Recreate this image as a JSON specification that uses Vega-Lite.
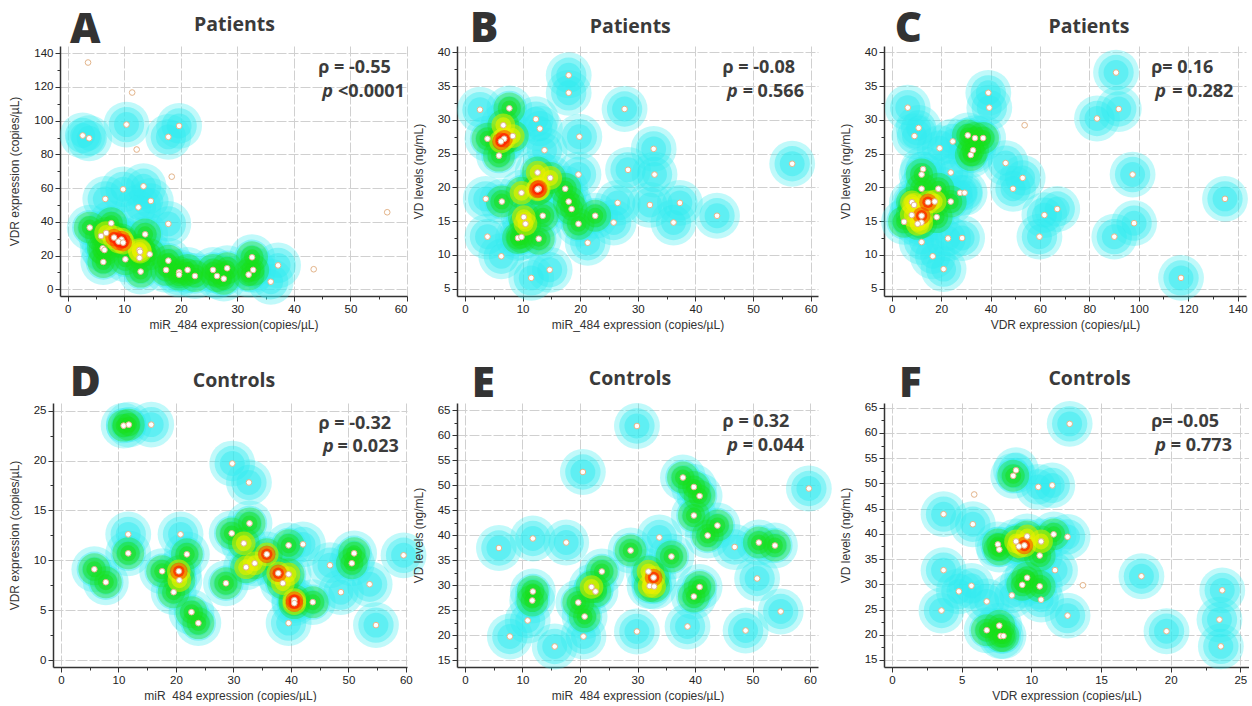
{
"$schema":"https://vega.github.io/schema/vega-lite/v6.json",
"background":"white",
"padding":{"left":8,"top":7,"right":0,"bottom":0},
"config":{"view":{"stroke":null},
"axis":{"domainColor":"#333","domainWidth":1.5,"tickColor":"#333","labelFont":"Liberation Sans","labelFontSize":11.5,"labelColor":"#222","titleFont":"Liberation Sans","titleFontSize":12,"titleFontWeight":"normal","titleColor":"#333","gridColor":"#d0d0d0","gridDash":[10,2],"labelPadding":2,"tickSize":4}},
"datasets":{
"A":[{"x":3.6,"y":134.5,"heat":0},{"x":11.4,"y":116.7,"heat":0},{"x":10.4,"y":97.7,"heat":1},{"x":19.7,"y":96.9,"heat":1},{"x":2.65,"y":91.2,"heat":1},{"x":3.8,"y":89.6,"heat":1},{"x":17.8,"y":90.4,"heat":1},{"x":12.2,"y":82.9,"heat":0},{"x":18.4,"y":66.8,"heat":0},{"x":13.4,"y":61.1,"heat":1},{"x":9.8,"y":59.3,"heat":1},{"x":6.65,"y":53.6,"heat":1},{"x":14.7,"y":52.4,"heat":1},{"x":12.5,"y":48.6,"heat":1},{"x":56.5,"y":45.7,"heat":0},{"x":17.8,"y":38.8,"heat":1},{"x":7.7,"y":39.2,"heat":2},{"x":3.9,"y":36.6,"heat":2},{"x":13.7,"y":32.6,"heat":2},{"x":6.8,"y":33.4,"heat":3},{"x":5.9,"y":31.6,"heat":2},{"x":8.2,"y":30.7,"heat":4},{"x":9.5,"y":29.5,"heat":4},{"x":9.0,"y":28.3,"heat":4},{"x":9.8,"y":27.7,"heat":4},{"x":6.2,"y":24.3,"heat":2},{"x":6.5,"y":23.3,"heat":2},{"x":12.7,"y":23.3,"heat":3},{"x":12.8,"y":22.3,"heat":3},{"x":14.5,"y":20.8,"heat":2},{"x":32.6,"y":19.0,"heat":2},{"x":10.2,"y":17.8,"heat":2},{"x":12.7,"y":18.6,"heat":2},{"x":17.8,"y":17.0,"heat":2},{"x":6.3,"y":16.2,"heat":2},{"x":37.2,"y":14.2,"heat":1},{"x":28.2,"y":12.5,"heat":2},{"x":17.4,"y":11.5,"heat":2},{"x":21.2,"y":11.5,"heat":2},{"x":25.7,"y":11.5,"heat":2},{"x":32.8,"y":11.5,"heat":2},{"x":43.5,"y":11.9,"heat":0},{"x":12.9,"y":10.5,"heat":2},{"x":19.7,"y":10.1,"heat":2},{"x":19.7,"y":8.7,"heat":2},{"x":22.5,"y":7.9,"heat":2},{"x":26.4,"y":7.9,"heat":2},{"x":27.6,"y":6.3,"heat":2},{"x":32.0,"y":8.7,"heat":2},{"x":35.9,"y":4.5,"heat":1}],
"B":[{"x":18.0,"y":36.6,"heat":1},{"x":18.0,"y":34.0,"heat":1},{"x":2.6,"y":31.5,"heat":1},{"x":7.7,"y":31.7,"heat":2},{"x":27.7,"y":31.6,"heat":1},{"x":12.3,"y":30.1,"heat":1},{"x":6.65,"y":29.2,"heat":3},{"x":13.0,"y":28.7,"heat":1},{"x":19.85,"y":27.5,"heat":1},{"x":8.3,"y":27.6,"heat":3},{"x":3.9,"y":27.2,"heat":2},{"x":6.8,"y":27.2,"heat":4},{"x":6.25,"y":26.8,"heat":4},{"x":13.8,"y":25.5,"heat":1},{"x":5.9,"y":24.7,"heat":2},{"x":32.75,"y":25.7,"heat":1},{"x":28.3,"y":22.6,"heat":1},{"x":32.9,"y":21.9,"heat":1},{"x":19.7,"y":21.9,"heat":1},{"x":12.6,"y":22.2,"heat":3},{"x":14.8,"y":21.4,"heat":3},{"x":56.8,"y":23.5,"heat":1},{"x":12.8,"y":19.8,"heat":4},{"x":12.6,"y":19.7,"heat":4},{"x":17.4,"y":19.8,"heat":2},{"x":9.8,"y":19.2,"heat":3},{"x":3.6,"y":18.3,"heat":1},{"x":6.4,"y":17.9,"heat":2},{"x":18.0,"y":17.9,"heat":2},{"x":18.5,"y":16.8,"heat":2},{"x":26.5,"y":17.7,"heat":1},{"x":32.1,"y":17.4,"heat":1},{"x":37.3,"y":17.7,"heat":1},{"x":10.2,"y":15.6,"heat":3},{"x":13.5,"y":15.8,"heat":2},{"x":22.6,"y":15.8,"heat":2},{"x":43.75,"y":15.8,"heat":1},{"x":10.5,"y":14.6,"heat":3},{"x":19.7,"y":14.6,"heat":2},{"x":25.8,"y":14.8,"heat":1},{"x":36.2,"y":14.8,"heat":1},{"x":3.9,"y":12.7,"heat":1},{"x":9.2,"y":12.5,"heat":2},{"x":9.8,"y":12.65,"heat":2},{"x":12.8,"y":12.4,"heat":2},{"x":21.3,"y":11.8,"heat":1},{"x":6.3,"y":9.8,"heat":1},{"x":14.7,"y":7.8,"heat":1},{"x":11.5,"y":6.6,"heat":1}],
"C":[{"x":90.8,"y":37.0,"heat":1},{"x":39.1,"y":34.0,"heat":1},{"x":6.5,"y":31.8,"heat":1},{"x":39.5,"y":31.8,"heat":1},{"x":91.9,"y":31.6,"heat":1},{"x":53.8,"y":29.2,"heat":0},{"x":83.1,"y":30.2,"heat":1},{"x":10.9,"y":28.8,"heat":1},{"x":9.2,"y":27.6,"heat":1},{"x":30.8,"y":27.7,"heat":2},{"x":33.7,"y":27.3,"heat":2},{"x":37.0,"y":27.3,"heat":2},{"x":24.7,"y":26.8,"heat":1},{"x":19.4,"y":25.8,"heat":1},{"x":32.9,"y":25.5,"heat":2},{"x":32.0,"y":24.8,"heat":2},{"x":46.1,"y":23.6,"heat":1},{"x":12.7,"y":22.7,"heat":1},{"x":23.9,"y":22.2,"heat":1},{"x":12.1,"y":21.9,"heat":2},{"x":97.5,"y":21.9,"heat":1},{"x":53.0,"y":21.4,"heat":1},{"x":12.1,"y":19.8,"heat":2},{"x":18.9,"y":19.8,"heat":2},{"x":49.1,"y":19.8,"heat":1},{"x":27.7,"y":19.2,"heat":1},{"x":29.5,"y":19.2,"heat":1},{"x":134.9,"y":18.3,"heat":1},{"x":8.2,"y":17.8,"heat":3},{"x":9.05,"y":17.4,"heat":3},{"x":14.7,"y":17.8,"heat":4},{"x":17.4,"y":17.9,"heat":3},{"x":23.9,"y":17.9,"heat":2},{"x":61.8,"y":15.9,"heat":1},{"x":67.0,"y":16.8,"heat":1},{"x":8.1,"y":15.9,"heat":3},{"x":12.1,"y":15.8,"heat":4},{"x":18.2,"y":15.6,"heat":2},{"x":5.0,"y":14.9,"heat":2},{"x":12.0,"y":14.8,"heat":3},{"x":10.5,"y":14.6,"heat":3},{"x":98.1,"y":14.7,"heat":1},{"x":59.8,"y":12.7,"heat":1},{"x":90.1,"y":12.7,"heat":1},{"x":22.8,"y":12.45,"heat":1},{"x":28.5,"y":12.5,"heat":1},{"x":12.1,"y":11.9,"heat":1},{"x":16.6,"y":9.8,"heat":1},{"x":21.0,"y":7.9,"heat":1},{"x":117.1,"y":6.6,"heat":1}],
"D":[{"x":10.9,"y":23.5,"heat":2},{"x":11.8,"y":23.6,"heat":2},{"x":15.7,"y":23.6,"heat":1},{"x":29.8,"y":19.7,"heat":1},{"x":32.7,"y":17.8,"heat":1},{"x":32.8,"y":13.7,"heat":2},{"x":11.7,"y":12.6,"heat":1},{"x":20.8,"y":12.6,"heat":1},{"x":29.7,"y":12.7,"heat":2},{"x":31.8,"y":11.7,"heat":3},{"x":39.6,"y":11.5,"heat":2},{"x":42.1,"y":11.6,"heat":1},{"x":11.7,"y":10.7,"heat":2},{"x":21.9,"y":10.6,"heat":2},{"x":35.8,"y":10.6,"heat":4},{"x":51.0,"y":10.7,"heat":2},{"x":59.6,"y":10.5,"heat":1},{"x":50.6,"y":9.7,"heat":2},{"x":33.7,"y":9.7,"heat":3},{"x":46.8,"y":9.5,"heat":1},{"x":32.2,"y":9.3,"heat":3},{"x":5.8,"y":9.1,"heat":2},{"x":17.6,"y":8.9,"heat":2},{"x":20.5,"y":8.9,"heat":4},{"x":37.8,"y":8.7,"heat":4},{"x":39.6,"y":8.6,"heat":3},{"x":20.6,"y":8.0,"heat":3},{"x":7.8,"y":7.8,"heat":2},{"x":28.7,"y":7.7,"heat":2},{"x":38.6,"y":7.7,"heat":3},{"x":53.7,"y":7.6,"heat":1},{"x":19.6,"y":6.8,"heat":2},{"x":48.7,"y":6.8,"heat":1},{"x":40.6,"y":6.0,"heat":4},{"x":40.6,"y":5.7,"heat":4},{"x":43.8,"y":5.8,"heat":2},{"x":22.7,"y":4.8,"heat":2},{"x":23.9,"y":3.7,"heat":2},{"x":39.6,"y":3.7,"heat":1},{"x":54.8,"y":3.5,"heat":1}],
"E":[{"x":29.9,"y":61.8,"heat":1},{"x":20.5,"y":52.6,"heat":1},{"x":37.9,"y":51.5,"heat":2},{"x":39.8,"y":49.6,"heat":2},{"x":59.8,"y":49.3,"heat":1},{"x":40.8,"y":47.8,"heat":2},{"x":39.8,"y":43.9,"heat":2},{"x":43.9,"y":41.9,"heat":2},{"x":42.2,"y":39.9,"heat":2},{"x":11.8,"y":39.3,"heat":1},{"x":33.8,"y":39.5,"heat":1},{"x":17.6,"y":38.5,"heat":1},{"x":51.1,"y":38.5,"heat":2},{"x":53.9,"y":37.9,"heat":2},{"x":46.9,"y":37.6,"heat":1},{"x":5.9,"y":37.4,"heat":1},{"x":28.8,"y":36.9,"heat":2},{"x":35.9,"y":35.7,"heat":2},{"x":23.8,"y":32.7,"heat":2},{"x":31.9,"y":32.7,"heat":3},{"x":32.8,"y":31.5,"heat":4},{"x":50.8,"y":31.3,"heat":1},{"x":22.0,"y":29.6,"heat":3},{"x":32.1,"y":29.8,"heat":3},{"x":32.9,"y":29.7,"heat":3},{"x":40.8,"y":29.6,"heat":2},{"x":11.8,"y":28.7,"heat":2},{"x":22.7,"y":28.7,"heat":2},{"x":39.8,"y":27.7,"heat":2},{"x":11.7,"y":26.9,"heat":2},{"x":19.7,"y":26.5,"heat":2},{"x":54.9,"y":24.7,"heat":1},{"x":20.8,"y":23.7,"heat":2},{"x":10.9,"y":22.9,"heat":1},{"x":38.7,"y":21.7,"heat":1},{"x":48.8,"y":20.9,"heat":1},{"x":29.9,"y":20.7,"heat":1},{"x":7.8,"y":19.7,"heat":1},{"x":20.6,"y":19.7,"heat":1},{"x":15.6,"y":17.7,"heat":1}],
"F":[{"x":12.75,"y":61.8,"heat":1},{"x":8.9,"y":52.6,"heat":1},{"x":8.7,"y":51.5,"heat":2},{"x":11.5,"y":49.6,"heat":1},{"x":10.5,"y":49.3,"heat":1},{"x":5.9,"y":47.8,"heat":0},{"x":3.7,"y":43.9,"heat":1},{"x":5.8,"y":41.9,"heat":1},{"x":11.6,"y":39.9,"heat":2},{"x":9.7,"y":39.5,"heat":3},{"x":12.6,"y":39.4,"heat":1},{"x":8.9,"y":38.5,"heat":3},{"x":10.7,"y":38.5,"heat":3},{"x":7.6,"y":37.9,"heat":2},{"x":9.5,"y":37.7,"heat":4},{"x":9.1,"y":37.5,"heat":3},{"x":7.7,"y":36.9,"heat":2},{"x":10.6,"y":35.7,"heat":2},{"x":3.7,"y":32.8,"heat":1},{"x":11.7,"y":32.8,"heat":1},{"x":17.9,"y":31.6,"heat":1},{"x":9.7,"y":31.3,"heat":2},{"x":13.7,"y":29.8,"heat":0},{"x":9.35,"y":29.9,"heat":2},{"x":10.6,"y":29.6,"heat":2},{"x":5.7,"y":29.7,"heat":1},{"x":23.7,"y":28.8,"heat":1},{"x":4.8,"y":28.6,"heat":1},{"x":8.6,"y":27.8,"heat":1},{"x":10.7,"y":26.95,"heat":1},{"x":6.8,"y":26.6,"heat":1},{"x":3.55,"y":24.8,"heat":1},{"x":12.6,"y":23.8,"heat":1},{"x":23.5,"y":23.0,"heat":1},{"x":7.7,"y":21.8,"heat":2},{"x":6.8,"y":20.9,"heat":2},{"x":19.7,"y":20.7,"heat":1},{"x":7.8,"y":19.75,"heat":2},{"x":8.0,"y":19.75,"heat":2},{"x":23.6,"y":17.7,"heat":1}],
"annA":[{"x":0.41,"y":146.3,"t":"A","k":"L"},{"x":29.5,"y":153.2,"t":"Patients","k":"T"},{"x":44.3,"y":128.3,"t":"ρ = -0.55","k":"r"},{"x":45.0,"y":114.1,"t":"p","k":"p"},{"x":47.8,"y":114.1,"t":"<0.0001","k":"r"}],
"annB":[{"x":0.87,"y":41.58,"t":"B","k":"L"},{"x":28.7,"y":42.82,"t":"Patients","k":"T"},{"x":44.7,"y":37.0,"t":"ρ = -0.08","k":"r"},{"x":45.5,"y":33.4,"t":"p","k":"p"},{"x":48.2,"y":33.4,"t":"= 0.566","k":"r"}],
"annC":[{"x":1.2,"y":41.53,"t":"C","k":"L"},{"x":79.8,"y":42.82,"t":"Patients","k":"T"},{"x":105.0,"y":37.0,"t":"ρ= 0.16","k":"r"},{"x":106.7,"y":33.4,"t":"p","k":"p"},{"x":113.5,"y":33.4,"t":"= 0.282","k":"r"}],
"annD":[{"x":1.57,"y":26.47,"t":"D","k":"L"},{"x":30.1,"y":27.35,"t":"Controls","k":"T"},{"x":44.8,"y":23.2,"t":"ρ = -0.32","k":"r"},{"x":45.6,"y":20.9,"t":"p","k":"p"},{"x":48.1,"y":20.9,"t":"= 0.023","k":"r"}],
"annE":[{"x":1.17,"y":67.6,"t":"E","k":"L"},{"x":28.7,"y":70.0,"t":"Controls","k":"T"},{"x":44.8,"y":61.7,"t":"ρ = 0.32","k":"r"},{"x":45.6,"y":56.9,"t":"p","k":"p"},{"x":48.3,"y":56.9,"t":"= 0.044","k":"r"}],
"annF":[{"x":0.5,"y":67.12,"t":"F","k":"L"},{"x":14.18,"y":69.5,"t":"Controls","k":"T"},{"x":18.6,"y":61.2,"t":"ρ= -0.05","k":"r"},{"x":18.9,"y":56.5,"t":"p","k":"p"},{"x":20.0,"y":56.5,"t":"= 0.773","k":"r"}]
},
"spacing":31,
"vconcat":[
{"hconcat":[
{"width":7,"height":250,"data":{"values":[]},"mark":{"type":"point","opacity":0}},
{"width":347,"height":250,"data":{"name":"A"},
"encoding":{"x":{"field":"x","type":"quantitative","scale":{"domain":[-1.36,60],"nice":false,"zero":false},"axis":{"title":"miR_484 expression(copies/µL)","values":[0,5,10,15,20,25,30,35,40,45,50,55,60],"labelExpr":"datum.value % 10 === 0 ? datum.label : ''","gridOpacity":{"condition":{"test":"datum.value % 10 === 0","value":1},"value":0},"tickSize":{"condition":{"test":"datum.value % 10 === 0","value":5},"value":3},"titlePadding":5}},
"y":{"field":"y","type":"quantitative","scale":{"domain":[-3.97,144.3],"nice":false,"zero":false},"axis":{"title":"VDR expression (copies/µL)","values":[0,10,20,30,40,50,60,70,80,90,100,110,120,130,140],"labelExpr":"datum.value % 20 === 0 ? datum.label : ''","gridOpacity":{"condition":{"test":"datum.value % 20 === 0","value":1},"value":0},"tickSize":{"condition":{"test":"datum.value % 20 === 0","value":5},"value":3},"titlePadding":12}}},
"layer":[
{"transform":[{"filter":"datum.heat>=1"}],"mark":{"type":"circle","size":2100,"color":"#30ecf0","opacity":0.3}},
{"transform":[{"filter":"datum.heat>=1"}],"mark":{"type":"circle","size":1250,"color":"#30ecf0","opacity":0.4}},
{"transform":[{"filter":"datum.heat>=1"}],"mark":{"type":"circle","size":620,"color":"#30ecf0","opacity":0.45}},
{"transform":[{"filter":"datum.heat>=2"}],"mark":{"type":"circle","size":1018,"color":"#18e018","opacity":0.35}},
{"transform":[{"filter":"datum.heat>=2"}],"mark":{"type":"circle","size":531,"color":"#18e018","opacity":0.45}},
{"transform":[{"filter":"datum.heat>=2"}],"mark":{"type":"circle","size":254,"color":"#18e018","opacity":0.5}},
{"transform":[{"filter":"datum.heat>=3"}],"mark":{"type":"circle","size":560,"color":"#f0f000","opacity":0.5}},
{"transform":[{"filter":"datum.heat>=3"}],"mark":{"type":"circle","size":254,"color":"#f0f000","opacity":0.6}},
{"transform":[{"filter":"datum.heat>=4"}],"mark":{"type":"circle","size":314,"color":"#ff2000","opacity":0.45}},
{"transform":[{"filter":"datum.heat>=4"}],"mark":{"type":"circle","size":130,"color":"#ff2000","opacity":0.7}},
{"mark":{"type":"circle","size":32,"fill":"white","stroke":"#e3b48a","strokeWidth":1,"opacity":1}},
{"data":{"name":"annA"},"transform":[{"filter":"datum.k==='L'"}],"mark":{"type":"text","align":"left","baseline":"alphabetic","font":"Open Sans","fontSize":42,"fontWeight":800,"color":"#333"},"encoding":{"text":{"field":"t","type":"nominal"}}},
{"data":{"name":"annA"},"transform":[{"filter":"datum.k==='T'"}],"mark":{"type":"text","align":"center","baseline":"alphabetic","font":"Open Sans","fontSize":19.5,"fontWeight":"bold","color":"#3a3a3a"},"encoding":{"text":{"field":"t","type":"nominal"}}},
{"data":{"name":"annA"},"transform":[{"filter":"datum.k==='r'"}],"mark":{"type":"text","align":"left","baseline":"alphabetic","font":"Open Sans","fontSize":18,"fontWeight":"bold","color":"#3c3c3c"},"encoding":{"text":{"field":"t","type":"nominal"}}},
{"data":{"name":"annA"},"transform":[{"filter":"datum.k==='p'"}],"mark":{"type":"text","align":"left","baseline":"alphabetic","font":"Open Sans","fontSize":18,"fontWeight":"bold","fontStyle":"italic","color":"#3c3c3c"},"encoding":{"text":{"field":"t","type":"nominal"}}}
]},
{"width":50,"height":250,"data":{"values":[]},"mark":{"type":"point","opacity":0}},
{"width":361,"height":250,"data":{"name":"B"},
"encoding":{"x":{"field":"x","type":"quantitative","scale":{"domain":[-1.39,61.28],"nice":false,"zero":false},"axis":{"title":"miR_484 expression (copies/µL)","values":[0,5,10,15,20,25,30,35,40,45,50,55,60],"labelExpr":"datum.value % 10 === 0 ? datum.label : ''","gridOpacity":{"condition":{"test":"datum.value % 10 === 0","value":1},"value":0},"tickSize":{"condition":{"test":"datum.value % 10 === 0","value":5},"value":3},"titlePadding":5}},
"y":{"field":"y","type":"quantitative","scale":{"domain":[3.92,40.93],"nice":false,"zero":false},"axis":{"title":"VD levels (ng/mL)","values":[5,7.5,10,12.5,15,17.5,20,22.5,25,27.5,30,32.5,35,37.5,40],"labelExpr":"datum.value % 5 === 0 ? datum.label : ''","gridOpacity":{"condition":{"test":"datum.value % 5 === 0","value":1},"value":0},"tickSize":{"condition":{"test":"datum.value % 5 === 0","value":5},"value":3},"titlePadding":12}}},
"layer":[
{"transform":[{"filter":"datum.heat>=1"}],"mark":{"type":"circle","size":2100,"color":"#30ecf0","opacity":0.3}},
{"transform":[{"filter":"datum.heat>=1"}],"mark":{"type":"circle","size":1250,"color":"#30ecf0","opacity":0.4}},
{"transform":[{"filter":"datum.heat>=1"}],"mark":{"type":"circle","size":620,"color":"#30ecf0","opacity":0.45}},
{"transform":[{"filter":"datum.heat>=2"}],"mark":{"type":"circle","size":1018,"color":"#18e018","opacity":0.35}},
{"transform":[{"filter":"datum.heat>=2"}],"mark":{"type":"circle","size":531,"color":"#18e018","opacity":0.45}},
{"transform":[{"filter":"datum.heat>=2"}],"mark":{"type":"circle","size":254,"color":"#18e018","opacity":0.5}},
{"transform":[{"filter":"datum.heat>=3"}],"mark":{"type":"circle","size":560,"color":"#f0f000","opacity":0.5}},
{"transform":[{"filter":"datum.heat>=3"}],"mark":{"type":"circle","size":254,"color":"#f0f000","opacity":0.6}},
{"transform":[{"filter":"datum.heat>=4"}],"mark":{"type":"circle","size":314,"color":"#ff2000","opacity":0.45}},
{"transform":[{"filter":"datum.heat>=4"}],"mark":{"type":"circle","size":130,"color":"#ff2000","opacity":0.7}},
{"mark":{"type":"circle","size":32,"fill":"white","stroke":"#e3b48a","strokeWidth":1,"opacity":1}},
{"data":{"name":"annB"},"transform":[{"filter":"datum.k==='L'"}],"mark":{"type":"text","align":"left","baseline":"alphabetic","font":"Open Sans","fontSize":42,"fontWeight":800,"color":"#333"},"encoding":{"text":{"field":"t","type":"nominal"}}},
{"data":{"name":"annB"},"transform":[{"filter":"datum.k==='T'"}],"mark":{"type":"text","align":"center","baseline":"alphabetic","font":"Open Sans","fontSize":19.5,"fontWeight":"bold","color":"#3a3a3a"},"encoding":{"text":{"field":"t","type":"nominal"}}},
{"data":{"name":"annB"},"transform":[{"filter":"datum.k==='r'"}],"mark":{"type":"text","align":"left","baseline":"alphabetic","font":"Open Sans","fontSize":18,"fontWeight":"bold","color":"#3c3c3c"},"encoding":{"text":{"field":"t","type":"nominal"}}},
{"data":{"name":"annB"},"transform":[{"filter":"datum.k==='p'"}],"mark":{"type":"text","align":"left","baseline":"alphabetic","font":"Open Sans","fontSize":18,"fontWeight":"bold","fontStyle":"italic","color":"#3c3c3c"},"encoding":{"text":{"field":"t","type":"nominal"}}}
]},
{"width":66,"height":250,"data":{"values":[]},"mark":{"type":"point","opacity":0}},
{"width":362,"height":250,"data":{"name":"C"},
"encoding":{"x":{"field":"x","type":"quantitative","scale":{"domain":[-3.12,143.4],"nice":false,"zero":false},"axis":{"title":"VDR expression (copies/µL)","values":[0,10,20,30,40,50,60,70,80,90,100,110,120,130,140],"labelExpr":"datum.value % 20 === 0 ? datum.label : ''","gridOpacity":{"condition":{"test":"datum.value % 20 === 0","value":1},"value":0},"tickSize":{"condition":{"test":"datum.value % 20 === 0","value":5},"value":3},"titlePadding":5}},
"y":{"field":"y","type":"quantitative","scale":{"domain":[3.92,40.93],"nice":false,"zero":false},"axis":{"title":"VD levels (ng/mL)","values":[5,7.5,10,12.5,15,17.5,20,22.5,25,27.5,30,32.5,35,37.5,40],"labelExpr":"datum.value % 5 === 0 ? datum.label : ''","gridOpacity":{"condition":{"test":"datum.value % 5 === 0","value":1},"value":0},"tickSize":{"condition":{"test":"datum.value % 5 === 0","value":5},"value":3},"titlePadding":12}}},
"layer":[
{"transform":[{"filter":"datum.heat>=1"}],"mark":{"type":"circle","size":2100,"color":"#30ecf0","opacity":0.3}},
{"transform":[{"filter":"datum.heat>=1"}],"mark":{"type":"circle","size":1250,"color":"#30ecf0","opacity":0.4}},
{"transform":[{"filter":"datum.heat>=1"}],"mark":{"type":"circle","size":620,"color":"#30ecf0","opacity":0.45}},
{"transform":[{"filter":"datum.heat>=2"}],"mark":{"type":"circle","size":1018,"color":"#18e018","opacity":0.35}},
{"transform":[{"filter":"datum.heat>=2"}],"mark":{"type":"circle","size":531,"color":"#18e018","opacity":0.45}},
{"transform":[{"filter":"datum.heat>=2"}],"mark":{"type":"circle","size":254,"color":"#18e018","opacity":0.5}},
{"transform":[{"filter":"datum.heat>=3"}],"mark":{"type":"circle","size":560,"color":"#f0f000","opacity":0.5}},
{"transform":[{"filter":"datum.heat>=3"}],"mark":{"type":"circle","size":254,"color":"#f0f000","opacity":0.6}},
{"transform":[{"filter":"datum.heat>=4"}],"mark":{"type":"circle","size":314,"color":"#ff2000","opacity":0.45}},
{"transform":[{"filter":"datum.heat>=4"}],"mark":{"type":"circle","size":130,"color":"#ff2000","opacity":0.7}},
{"mark":{"type":"circle","size":32,"fill":"white","stroke":"#e3b48a","strokeWidth":1,"opacity":1}},
{"data":{"name":"annC"},"transform":[{"filter":"datum.k==='L'"}],"mark":{"type":"text","align":"left","baseline":"alphabetic","font":"Open Sans","fontSize":42,"fontWeight":800,"color":"#333"},"encoding":{"text":{"field":"t","type":"nominal"}}},
{"data":{"name":"annC"},"transform":[{"filter":"datum.k==='T'"}],"mark":{"type":"text","align":"center","baseline":"alphabetic","font":"Open Sans","fontSize":19.5,"fontWeight":"bold","color":"#3a3a3a"},"encoding":{"text":{"field":"t","type":"nominal"}}},
{"data":{"name":"annC"},"transform":[{"filter":"datum.k==='r'"}],"mark":{"type":"text","align":"left","baseline":"alphabetic","font":"Open Sans","fontSize":18,"fontWeight":"bold","color":"#3c3c3c"},"encoding":{"text":{"field":"t","type":"nominal"}}},
{"data":{"name":"annC"},"transform":[{"filter":"datum.k==='p'"}],"mark":{"type":"text","align":"left","baseline":"alphabetic","font":"Open Sans","fontSize":18,"fontWeight":"bold","fontStyle":"italic","color":"#3c3c3c"},"encoding":{"text":{"field":"t","type":"nominal"}}}
]}
],"spacing":0,"bounds":"flush"},
{"hconcat":[
{"width":354,"height":264,"data":{"name":"D"},
"encoding":{"x":{"field":"x","type":"quantitative","scale":{"domain":[-1.39,60.2],"nice":false,"zero":false},"axis":{"title":"miR_484 expression  (copies/µL)","values":[0,5,10,15,20,25,30,35,40,45,50,55,60],"labelExpr":"datum.value % 10 === 0 ? datum.label : ''","gridOpacity":{"condition":{"test":"datum.value % 10 === 0","value":1},"value":0},"tickSize":{"condition":{"test":"datum.value % 10 === 0","value":5},"value":3},"titlePadding":5}},
"y":{"field":"y","type":"quantitative","scale":{"domain":[-0.7,25.77],"nice":false,"zero":false},"axis":{"title":"VDR expression (copies/µL)","values":[0,2.5,5,7.5,10,12.5,15,17.5,20,22.5,25],"labelExpr":"datum.value % 5 === 0 ? datum.label : ''","gridOpacity":{"condition":{"test":"datum.value % 5 === 0","value":1},"value":0},"tickSize":{"condition":{"test":"datum.value % 5 === 0","value":5},"value":3},"titlePadding":12}}},
"layer":[
{"transform":[{"filter":"datum.heat>=1"}],"mark":{"type":"circle","size":2100,"color":"#30ecf0","opacity":0.3}},
{"transform":[{"filter":"datum.heat>=1"}],"mark":{"type":"circle","size":1250,"color":"#30ecf0","opacity":0.4}},
{"transform":[{"filter":"datum.heat>=1"}],"mark":{"type":"circle","size":620,"color":"#30ecf0","opacity":0.45}},
{"transform":[{"filter":"datum.heat>=2"}],"mark":{"type":"circle","size":1018,"color":"#18e018","opacity":0.35}},
{"transform":[{"filter":"datum.heat>=2"}],"mark":{"type":"circle","size":531,"color":"#18e018","opacity":0.45}},
{"transform":[{"filter":"datum.heat>=2"}],"mark":{"type":"circle","size":254,"color":"#18e018","opacity":0.5}},
{"transform":[{"filter":"datum.heat>=3"}],"mark":{"type":"circle","size":560,"color":"#f0f000","opacity":0.5}},
{"transform":[{"filter":"datum.heat>=3"}],"mark":{"type":"circle","size":254,"color":"#f0f000","opacity":0.6}},
{"transform":[{"filter":"datum.heat>=4"}],"mark":{"type":"circle","size":314,"color":"#ff2000","opacity":0.45}},
{"transform":[{"filter":"datum.heat>=4"}],"mark":{"type":"circle","size":130,"color":"#ff2000","opacity":0.7}},
{"mark":{"type":"circle","size":32,"fill":"white","stroke":"#e3b48a","strokeWidth":1,"opacity":1}},
{"data":{"name":"annD"},"transform":[{"filter":"datum.k==='L'"}],"mark":{"type":"text","align":"left","baseline":"alphabetic","font":"Open Sans","fontSize":42,"fontWeight":800,"color":"#333"},"encoding":{"text":{"field":"t","type":"nominal"}}},
{"data":{"name":"annD"},"transform":[{"filter":"datum.k==='T'"}],"mark":{"type":"text","align":"center","baseline":"alphabetic","font":"Open Sans","fontSize":19.5,"fontWeight":"bold","color":"#3a3a3a"},"encoding":{"text":{"field":"t","type":"nominal"}}},
{"data":{"name":"annD"},"transform":[{"filter":"datum.k==='r'"}],"mark":{"type":"text","align":"left","baseline":"alphabetic","font":"Open Sans","fontSize":18,"fontWeight":"bold","color":"#3c3c3c"},"encoding":{"text":{"field":"t","type":"nominal"}}},
{"data":{"name":"annD"},"transform":[{"filter":"datum.k==='p'"}],"mark":{"type":"text","align":"left","baseline":"alphabetic","font":"Open Sans","fontSize":18,"fontWeight":"bold","fontStyle":"italic","color":"#3c3c3c"},"encoding":{"text":{"field":"t","type":"nominal"}}}
]},
{"width":50,"height":264,"data":{"values":[]},"mark":{"type":"point","opacity":0}},
{"width":361,"height":264,"data":{"name":"E"},
"encoding":{"x":{"field":"x","type":"quantitative","scale":{"domain":[-1.39,61.39],"nice":false,"zero":false},"axis":{"title":"miR_484 expression (copies/µL)","values":[0,5,10,15,20,25,30,35,40,45,50,55,60],"labelExpr":"datum.value % 10 === 0 ? datum.label : ''","gridOpacity":{"condition":{"test":"datum.value % 10 === 0","value":1},"value":0},"tickSize":{"condition":{"test":"datum.value % 10 === 0","value":5},"value":3},"titlePadding":5}},
"y":{"field":"y","type":"quantitative","scale":{"domain":[13.6,66.4],"nice":false,"zero":false},"axis":{"title":"VD levels (ng/mL)","values":[15,17.5,20,22.5,25,27.5,30,32.5,35,37.5,40,42.5,45,47.5,50,52.5,55,57.5,60,62.5,65],"labelExpr":"datum.value % 5 === 0 ? datum.label : ''","gridOpacity":{"condition":{"test":"datum.value % 5 === 0","value":1},"value":0},"tickSize":{"condition":{"test":"datum.value % 5 === 0","value":5},"value":3},"titlePadding":12}}},
"layer":[
{"transform":[{"filter":"datum.heat>=1"}],"mark":{"type":"circle","size":2100,"color":"#30ecf0","opacity":0.3}},
{"transform":[{"filter":"datum.heat>=1"}],"mark":{"type":"circle","size":1250,"color":"#30ecf0","opacity":0.4}},
{"transform":[{"filter":"datum.heat>=1"}],"mark":{"type":"circle","size":620,"color":"#30ecf0","opacity":0.45}},
{"transform":[{"filter":"datum.heat>=2"}],"mark":{"type":"circle","size":1018,"color":"#18e018","opacity":0.35}},
{"transform":[{"filter":"datum.heat>=2"}],"mark":{"type":"circle","size":531,"color":"#18e018","opacity":0.45}},
{"transform":[{"filter":"datum.heat>=2"}],"mark":{"type":"circle","size":254,"color":"#18e018","opacity":0.5}},
{"transform":[{"filter":"datum.heat>=3"}],"mark":{"type":"circle","size":560,"color":"#f0f000","opacity":0.5}},
{"transform":[{"filter":"datum.heat>=3"}],"mark":{"type":"circle","size":254,"color":"#f0f000","opacity":0.6}},
{"transform":[{"filter":"datum.heat>=4"}],"mark":{"type":"circle","size":314,"color":"#ff2000","opacity":0.45}},
{"transform":[{"filter":"datum.heat>=4"}],"mark":{"type":"circle","size":130,"color":"#ff2000","opacity":0.7}},
{"mark":{"type":"circle","size":32,"fill":"white","stroke":"#e3b48a","strokeWidth":1,"opacity":1}},
{"data":{"name":"annE"},"transform":[{"filter":"datum.k==='L'"}],"mark":{"type":"text","align":"left","baseline":"alphabetic","font":"Open Sans","fontSize":42,"fontWeight":800,"color":"#333"},"encoding":{"text":{"field":"t","type":"nominal"}}},
{"data":{"name":"annE"},"transform":[{"filter":"datum.k==='T'"}],"mark":{"type":"text","align":"center","baseline":"alphabetic","font":"Open Sans","fontSize":19.5,"fontWeight":"bold","color":"#3a3a3a"},"encoding":{"text":{"field":"t","type":"nominal"}}},
{"data":{"name":"annE"},"transform":[{"filter":"datum.k==='r'"}],"mark":{"type":"text","align":"left","baseline":"alphabetic","font":"Open Sans","fontSize":18,"fontWeight":"bold","color":"#3c3c3c"},"encoding":{"text":{"field":"t","type":"nominal"}}},
{"data":{"name":"annE"},"transform":[{"filter":"datum.k==='p'"}],"mark":{"type":"text","align":"left","baseline":"alphabetic","font":"Open Sans","fontSize":18,"fontWeight":"bold","fontStyle":"italic","color":"#3c3c3c"},"encoding":{"text":{"field":"t","type":"nominal"}}}
]},
{"width":66,"height":264,"data":{"values":[]},"mark":{"type":"point","opacity":0}},
{"width":365,"height":264,"data":{"name":"F"},
"encoding":{"x":{"field":"x","type":"quantitative","scale":{"domain":[-0.574,25.62],"nice":false,"zero":false},"axis":{"title":"VDR expression (copies/µL)","values":[0,2.5,5,7.5,10,12.5,15,17.5,20,22.5,25],"labelExpr":"datum.value % 5 === 0 ? datum.label : ''","gridOpacity":{"condition":{"test":"datum.value % 5 === 0","value":1},"value":0},"tickSize":{"condition":{"test":"datum.value % 5 === 0","value":5},"value":3},"titlePadding":5}},
"y":{"field":"y","type":"quantitative","scale":{"domain":[13.61,65.93],"nice":false,"zero":false},"axis":{"title":"VD levels (ng/mL)","values":[15,17.5,20,22.5,25,27.5,30,32.5,35,37.5,40,42.5,45,47.5,50,52.5,55,57.5,60,62.5,65],"labelExpr":"datum.value % 5 === 0 ? datum.label : ''","gridOpacity":{"condition":{"test":"datum.value % 5 === 0","value":1},"value":0},"tickSize":{"condition":{"test":"datum.value % 5 === 0","value":5},"value":3},"titlePadding":12}}},
"layer":[
{"transform":[{"filter":"datum.heat>=1"}],"mark":{"type":"circle","size":2100,"color":"#30ecf0","opacity":0.3}},
{"transform":[{"filter":"datum.heat>=1"}],"mark":{"type":"circle","size":1250,"color":"#30ecf0","opacity":0.4}},
{"transform":[{"filter":"datum.heat>=1"}],"mark":{"type":"circle","size":620,"color":"#30ecf0","opacity":0.45}},
{"transform":[{"filter":"datum.heat>=2"}],"mark":{"type":"circle","size":1018,"color":"#18e018","opacity":0.35}},
{"transform":[{"filter":"datum.heat>=2"}],"mark":{"type":"circle","size":531,"color":"#18e018","opacity":0.45}},
{"transform":[{"filter":"datum.heat>=2"}],"mark":{"type":"circle","size":254,"color":"#18e018","opacity":0.5}},
{"transform":[{"filter":"datum.heat>=3"}],"mark":{"type":"circle","size":560,"color":"#f0f000","opacity":0.5}},
{"transform":[{"filter":"datum.heat>=3"}],"mark":{"type":"circle","size":254,"color":"#f0f000","opacity":0.6}},
{"transform":[{"filter":"datum.heat>=4"}],"mark":{"type":"circle","size":314,"color":"#ff2000","opacity":0.45}},
{"transform":[{"filter":"datum.heat>=4"}],"mark":{"type":"circle","size":130,"color":"#ff2000","opacity":0.7}},
{"mark":{"type":"circle","size":32,"fill":"white","stroke":"#e3b48a","strokeWidth":1,"opacity":1}},
{"data":{"name":"annF"},"transform":[{"filter":"datum.k==='L'"}],"mark":{"type":"text","align":"left","baseline":"alphabetic","font":"Open Sans","fontSize":42,"fontWeight":800,"color":"#333"},"encoding":{"text":{"field":"t","type":"nominal"}}},
{"data":{"name":"annF"},"transform":[{"filter":"datum.k==='T'"}],"mark":{"type":"text","align":"center","baseline":"alphabetic","font":"Open Sans","fontSize":19.5,"fontWeight":"bold","color":"#3a3a3a"},"encoding":{"text":{"field":"t","type":"nominal"}}},
{"data":{"name":"annF"},"transform":[{"filter":"datum.k==='r'"}],"mark":{"type":"text","align":"left","baseline":"alphabetic","font":"Open Sans","fontSize":18,"fontWeight":"bold","color":"#3c3c3c"},"encoding":{"text":{"field":"t","type":"nominal"}}},
{"data":{"name":"annF"},"transform":[{"filter":"datum.k==='p'"}],"mark":{"type":"text","align":"left","baseline":"alphabetic","font":"Open Sans","fontSize":18,"fontWeight":"bold","fontStyle":"italic","color":"#3c3c3c"},"encoding":{"text":{"field":"t","type":"nominal"}}}
]}
],"spacing":0,"bounds":"flush"}
]
}
